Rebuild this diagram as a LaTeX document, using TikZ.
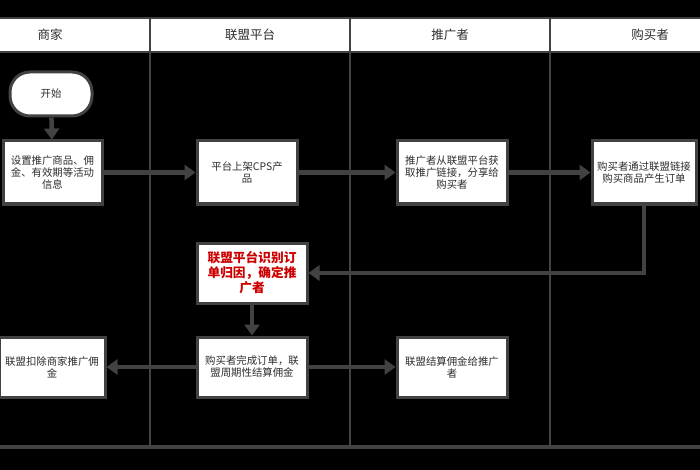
\documentclass[tikz,border=0pt]{standalone}
\usepackage{fontspec}
\setmainfont{Noto Sans CJK SC}
\usetikzlibrary{arrows.meta}

\begin{document}
\begin{tikzpicture}[x=1pt,y=-1pt,
  lane/.style={draw=linegray, line width=2.5pt},
  head/.style={draw=linegray, line width=2.8pt, fill=white, minimum width=200pt, minimum height=34pt, text=textgray, font=\fontsize{12.5}{14}\selectfont},
  box/.style={draw=linegray, line width=3pt, fill=white, minimum height=60pt, align=center, inner sep=2pt, text=textgray, font=\fontsize{10.4}{12}\selectfont},
  flow/.style={draw=linegray, line width=4.5pt, -{Triangle[length=11pt,width=15pt]}}]
\definecolor{linegray}{RGB}{66,66,66}
\definecolor{textgray}{RGB}{45,45,45}
\definecolor{alertred}{RGB}{204,0,0}
\useasboundingbox (0,0) rectangle (700,470);
\clip (0,0) rectangle (700,470);
\fill[black] (0,0) rectangle (700,470);
% swimlanes
\foreach \x in {150,350,550} \draw[lane] (\x,52) -- (\x,447);
\draw[lane, line width=4.5pt] (-10,447) -- (710,447);
\node[head] (hmer) at (50,35) {商家};
\node[head] (hplat) at (250,35) {联盟平台};
\node[head] (hpro) at (450,35) {推广者};
\node[head] (hbuy) at (650,35) {购买者};
% steps
\node[box, rounded corners=20pt, minimum width=82pt, minimum height=44pt] (start) at (51,94) {开始};
\node[box, minimum width=99pt, minimum height=63pt] (set) at (52.5,172.5) {设置推广商品、佣\\金、有效期等活动\\信息};
\node[box, minimum width=100pt, minimum height=63pt] (list) at (247,172.5) {平台上架CPS产\\品};
\node[box, minimum width=110pt, minimum height=63pt] (share) at (452,172.5) {推广者从联盟平台获\\取推广链接，分享给\\购买者};
\node[box, minimum width=104pt, minimum height=63pt] (order) at (644,172.5) {购买者通过联盟链接\\购买商品产生订单};
\node[box, minimum width=110pt, text=alertred, font=\fontsize{12.7}{15}\selectfont\bfseries] (attr) at (252,273) {联盟平台识别订\\单归因，确定推\\广者};
\node[box, minimum width=110pt] (settle) at (252,367) {购买者完成订单，联\\盟周期性结算佣金};
\node[box, minimum width=106pt] (deduct) at (52,367) {联盟扣除商家推广佣\\金};
\node[box, minimum width=110pt] (pay) at (452,367) {联盟结算佣金给推广\\者};
% connectors
\draw[flow] (start) -- (set);
\draw[flow] (set) -- (list);
\draw[flow] (list) -- (share);
\draw[flow] (share) -- (order);
\draw[flow] (order.south) |- (attr.east);
\draw[flow] (attr) -- (settle);
\draw[flow] (settle) -- (deduct);
\draw[flow] (settle) -- (pay);
\end{tikzpicture}
\end{document}
